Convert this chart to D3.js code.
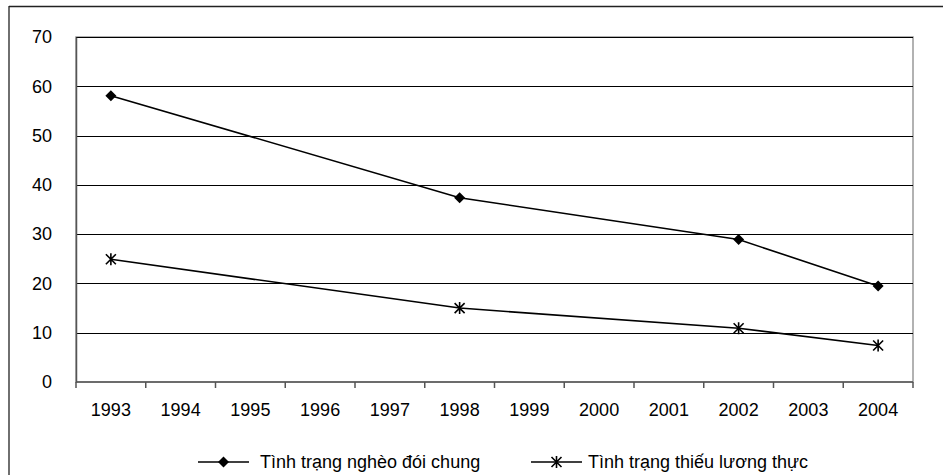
<!DOCTYPE html>
<html><head><meta charset="utf-8">
<script src="https://cdn.jsdelivr.net/npm/d3@7"></script>
<style>body{margin:0;background:#fff}svg{display:block}text{font-family:"Liberation Sans",Arial,sans-serif;}</style>
</head><body><svg id="c" width="943" height="475"></svg>
<script>
const years = ["1993","1994","1995","1996","1997","1998","1999","2000","2001","2002","2003","2004"];
const pointYears = ["1993","1998","2002","2004"];
const povertyValues = [58.1, 37.4, 28.9, 19.5];
const foodValues = [24.9, 15.0, 10.9, 7.4];
const seriesNames = ["Tình trạng nghèo đói chung", "Tình trạng thiếu lương thực"];
const yTicks = [0,10,20,30,40,50,60,70];

const svg = d3.select("#c");
const L = 76, R = 913, T = 37, B = 382;
const FS = 18;
// outer chart border (top and left visible)
svg.append("line").attr("x1",9).attr("x2",943).attr("y1",6.5).attr("y2",6.5).attr("stroke","#222").attr("stroke-width",1.3);
svg.append("line").attr("x1",9).attr("x2",9).attr("y1",6).attr("y2",475).attr("stroke","#222").attr("stroke-width",1.3);

const x = d3.scaleBand().domain(years).range([L,R]).padding(0);
const y = d3.scaleLinear().domain([0,70]).range([B,T]);

// plot area border
svg.append("rect").attr("x",L).attr("y",T).attr("width",R-L).attr("height",B-T).attr("fill","none").attr("stroke","#999").attr("stroke-width",1.5);
// gridlines
svg.append("g").selectAll("line").data(yTicks.filter(d=>d>0)).join("line")
  .attr("x1",L).attr("x2",R).attr("y1",d=>Math.round(y(d))+0.5).attr("y2",d=>Math.round(y(d))+0.5)
  .attr("stroke","#000").attr("stroke-width",1);

// y axis
const ya = svg.append("g").attr("transform",`translate(${L},0)`).call(d3.axisLeft(y).tickValues(yTicks).tickSize(0).tickPadding(24));
ya.select(".domain").attr("stroke","#555").attr("stroke-width",1.5);
ya.selectAll("text").attr("font-size",FS).attr("fill","#000").attr("font-family","Liberation Sans, Arial, sans-serif");

// x axis with ticks at category boundaries
const xa = svg.append("g").attr("transform",`translate(0,${B})`);
xa.append("line").attr("x1",L).attr("x2",R).attr("y1",0).attr("y2",0).attr("stroke","#555").attr("stroke-width",1.5);
const bounds = years.map(d=>x(d)).concat([R]);
xa.selectAll("line.t").data(bounds).join("line").attr("class","t")
  .attr("x1",d=>d).attr("x2",d=>d).attr("y1",0).attr("y2",6).attr("stroke","#555").attr("stroke-width",1.5);
xa.selectAll("text").data(years).join("text")
  .attr("x",d=>x(d)+x.bandwidth()/2).attr("y",34).attr("text-anchor","middle")
  .attr("font-size",FS).attr("fill","#000").text(d=>d);

const cx = d=>x(d)+x.bandwidth()/2;
const line = d3.line().x(d=>cx(d.year)).y(d=>y(d.v));
const s1 = pointYears.map((yr,i)=>({year:yr,v:povertyValues[i]}));
const s2 = pointYears.map((yr,i)=>({year:yr,v:foodValues[i]}));

function diamond(g, px, py, r){
  g.append("path").attr("d",`M${px},${py-r}L${px+r},${py}L${px},${py+r}L${px-r},${py}Z`).attr("fill","#000");
}
function star(g, px, py, r){
  g.append("path").attr("d",`M${px-r},${py-r}L${px+r},${py+r}M${px-r},${py+r}L${px+r},${py-r}M${px},${py-r-1}L${px},${py+r+1}`).attr("stroke","#000").attr("stroke-width",1.6).attr("fill","none");
}

svg.append("path").datum(s1).attr("d",line).attr("fill","none").attr("stroke","#000").attr("stroke-width",1.6);
svg.append("path").datum(s2).attr("d",line).attr("fill","none").attr("stroke","#000").attr("stroke-width",1.6);
const mk = svg.append("g");
s1.forEach(d=>diamond(mk, cx(d.year), y(d.v), 5.5));
s2.forEach(d=>star(mk, cx(d.year), y(d.v), 5));

// legend
const lg = svg.append("g");
const ly = 462;
const items = [{x0:198, x1:249, type:"d", tx:260, name:seriesNames[0]},{x0:531, x1:582, type:"s", tx:588, name:seriesNames[1]}];
items.forEach(it=>{
  lg.append("line").attr("x1",it.x0).attr("x2",it.x1).attr("y1",ly).attr("y2",ly).attr("stroke","#000").attr("stroke-width",1.6);
  const mx=(it.x0+it.x1)/2;
  if(it.type==="d") diamond(lg,mx,ly,5.5); else star(lg,mx,ly,5);
  lg.append("text").attr("x",it.tx).attr("y",ly+6).attr("font-size",FS).attr("fill","#000").text(it.name);
});
</script></body></html>
